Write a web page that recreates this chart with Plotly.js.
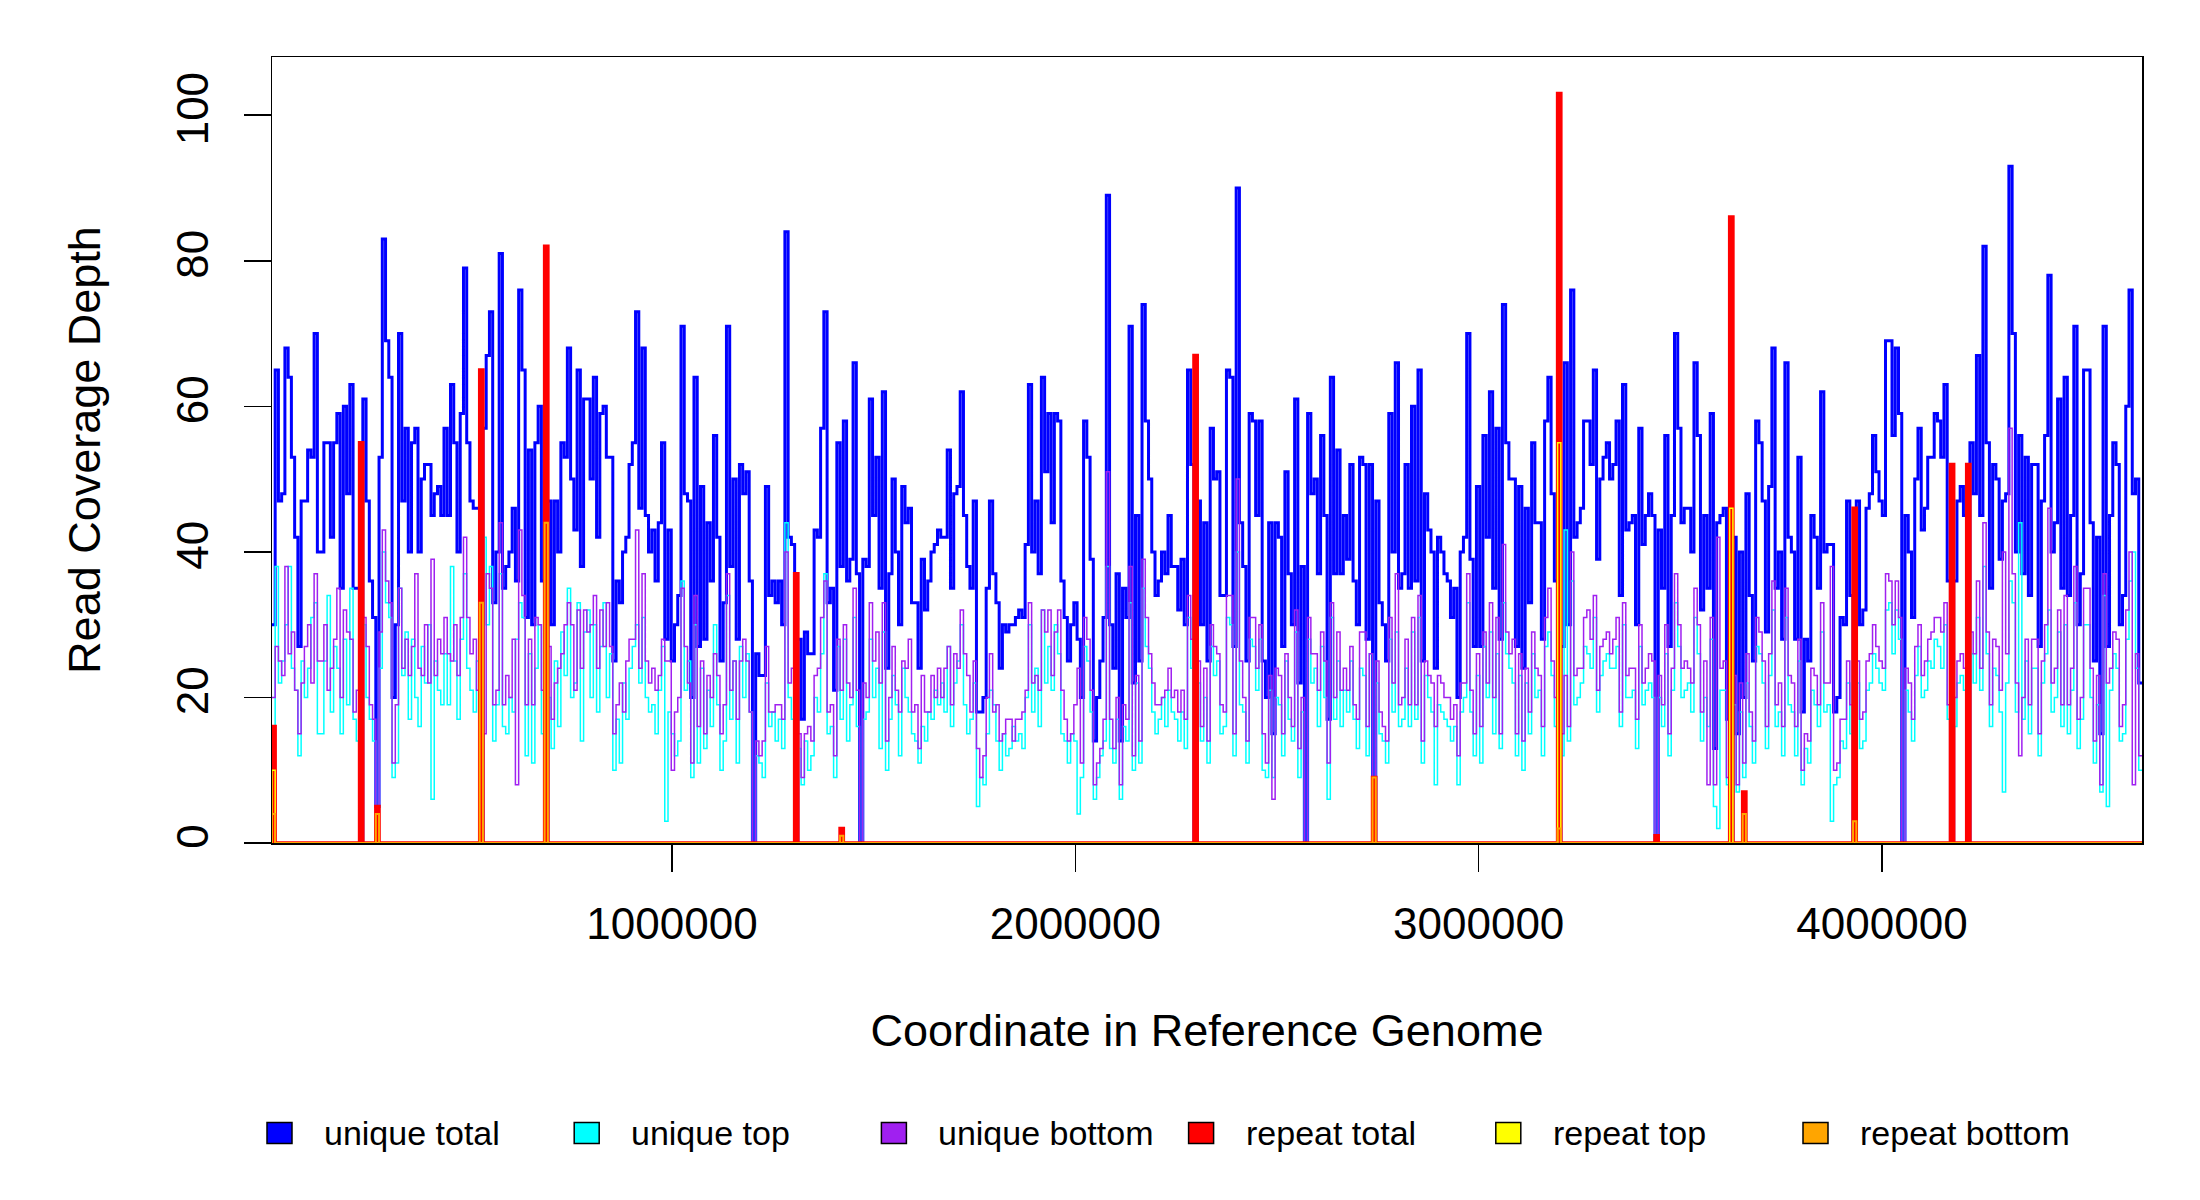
<!DOCTYPE html>
<html><head><meta charset="utf-8">
<script src="https://cdn.plot.ly/plotly-3.0.1.min.js"></script>
<style>html,body{margin:0;padding:0;background:#fff}#chart{width:2200px;height:1200px}</style>
</head><body><div id="chart"></div>
<script>
// ---- data ----
const uniqueTotal = [
30,30,65,47,48,68,64,53,42,27,47, 47,54,53,70,40,40,55,55,42,55,59, 35,60,48,63,35,35,0,61,47,36,
31,5,53,83,69,64,20,30,70,47, 57,40,55,57,40,50,52,52,45,48, 49,45,57,45,63,55,40,59,79,
55,47,46,46,0,57,67,73,33,40, 81,35,38,40,46,36,76,65,31,54, 30,55,60,36,0,47,30,47,40,55,
53,68,50,43,65,38,61,61,50,64, 42,59,60,53,53,25,36,33,40,42, 52,55,73,46,68,45,40,43,36,44,
55,28,43,25,30,34,71,48,47, 20,64,27,49,28,44,36,56,42,25, 33,71,38,50,28,52,48,51,36,0,
26,23,23,49,34,36,33,36,30,84, 42,41,0,28,17,29,26,26,43,42, 57,73,33,35,21,55,38,58,36,39,
66,37,0,39,38,61,45,53,35,62, 24,37,50,40,30,49,44,46,33,33, 24,39,32,36,40,41,43,42,42,54,
35,48,49,62,45,38,35,47,18,18, 20,35,47,37,33,24,30,29,30,30, 31,32,31,41,63,40,47,37,64,51,
59,44,59,58,36,31,25,30,33,28, 20,58,53,39,14,20,25,31,89,30, 24,37,14,35,31,71,22,45,25,74,
58,50,40,34,36,40,37,45,38,38, 32,39,30,65,52,0,47,30,44,25, 57,50,51,34,34,65,64,27,90,44,
38,25,59,58,45,58,25,20,44,15, 44,42,27,51,37,30,61,22,38,0, 59,48,50,37,56,45,17,64,37,54,
37,45,39,52,36,30,53,52,28,52, 0,47,33,30,25,59,40,66,35,37, 52,35,60,36,65,25,48,43,40,24,
42,40,37,36,31,35,20,40,42,70, 39,27,49,27,56,42,62,35,57,28, 74,55,50,50,27,49,24,46,33,55,
44,44,28,58,64,48,36,0,27,66, 30,76,42,44,46,58,58,52,65, 39,50,53,55,50,52,58,34,63,43,
44,45,30,57,41,45,48,45,0,43, 35,56,27,45,70,57,44,46,46, 40,66,56,32,45,35,59,13,44,45,
46,17,0,42,15,40,20,48,34,25, 58,55,47,29,49,68,35,40,28,66, 42,40,28,53,18,28,25,45,42,35,
62,40,41,41,18,20,31,30,47,34, 0,47,30,32,46,48,56,51,47,45, 69,69,56,68,59,0,45,40,31,50,
57,43,46,53,53,59,58,53,63,36, 0,36,47,49,45,0,55,48,67,45, 82,55,35,52,50,39,47,48,93,70,
40,56,37,53,34,52,52,27,47,56,78, 40,44,61,35,64,34,45,71,30,37, 65,65,44,25,42,15,71,27,45,55,52,
30,34,60,76,48,50,22];
const uniqueTop = [
9,9,38,22,25,30,38,24,21,12,25, 20,24,31,33,15,15,25,34,18,27,24, 15,28,19,35,17,14,0,30,20,17,
14,1,24,40,33,31,9,11,35,23, 29,17,28,20,16,27,22,30,6,25, 21,19,26,19,38,25,17,28,37,
24,21,18,25,0,42,30,38,14,19, 37,16,15,20,18,28,33,31,12,26, 11,24,30,15,0,20,13,25,16,29,
23,35,20,22,33,14,29,32,20,30, 18,27,33,20,26,10,17,11,22,17, 24,27,30,22,31,20,18,19,15,21,
27,3,18,15,12,14,36,21,25, 9,30,11,24,13,21,16,30,19,10, 14,34,17,25,11,27,20,26,18,0,
12,11,9,22,16,18,14,17,13,44, 20,17,0,13,8,14,10,12,20,18, 26,37,15,16,9,27,17,28,14,19,
31,16,0,17,18,28,20,24,13,29, 10,17,23,19,12,24,20,18,15,14, 11,16,14,18,17,21,19,22,18,27,
16,22,25,30,19,15,17,22,5,9, 8,15,21,19,14,10,15,12,13,16, 14,15,13,20,30,18,24,16,32,22,
27,21,30,26,15,14,11,15,14,4, 9,27,25,18,6,9,12,14,38,13, 11,17,6,16,14,33,10,22,11,35,
27,24,18,15,17,20,16,21,18,17, 14,18,13,31,24,0,22,14,20,11, 27,23,25,15,16,31,30,12,40,19,
18,11,28,27,21,28,10,9,21,9, 20,19,12,25,17,14,29,9,18,0, 28,22,24,16,27,20,6,31,17,25,
16,21,18,25,17,13,24,23,12,26, 0,22,15,14,11,28,18,29,16,17, 24,16,29,17,31,11,23,20,18,8,
19,18,17,16,14,16,8,18,20,33, 18,12,23,11,27,20,29,15,26,13, 33,26,24,22,12,23,10,22,15,26,
20,21,12,27,29,23,16,0,12,43, 14,36,19,20,22,27,26,24,31, 18,23,25,26,24,24,27,16,30,20,
20,21,13,27,19,21,22,20,0,20, 16,26,12,21,33,27,20,21,22, 18,31,26,14,20,16,28,5,2,21,
21,8,0,19,7,18,9,22,16,11, 27,26,22,13,23,32,16,18,12,31, 19,18,12,25,8,13,11,21,19,16,
29,18,19,3,8,9,14,13,22,15, 0,22,13,14,21,22,26,24,22,21, 32,33,26,32,28,0,21,18,14,23,
27,20,21,25,24,28,27,24,30,17, 0,16,22,23,21,0,26,22,31,21, 38,26,16,24,23,18,7,22,36,33,
18,44,17,25,15,24,24,12,22,26,32, 18,20,29,16,30,15,21,33,13,17, 30,30,20,11,19,7,34,5,21,26,24,
14,15,28,36,40,24,10];
const uniqueBottom = [
20,20,27,25,23,38,26,29,21,15,22, 27,30,22,37,25,25,30,21,24,28,35, 20,32,29,28,18,21,0,31,27,19,
17,4,29,43,36,33,11,19,35,24, 28,23,27,37,24,23,30,22,39,23, 28,26,31,26,25,30,23,31,42,
31,26,28,21,0,15,37,35,19,21, 44,19,23,20,28,8,43,34,19,28, 19,31,30,21,0,27,17,22,24,26,
30,33,30,21,32,24,32,29,30,34, 24,32,27,33,27,15,19,22,18,25, 28,28,43,24,37,25,22,24,21,23,
28,25,25,10,18,20,35,27,22, 11,34,16,25,15,23,20,26,23,15, 19,37,21,25,17,25,28,25,18,0,
14,12,14,27,18,18,19,19,17,40, 22,24,0,15,9,15,16,14,23,24, 31,36,18,19,12,28,21,30,22,20,
35,21,0,22,20,33,25,29,22,33, 14,20,27,21,18,25,24,28,18,19, 13,23,18,18,23,20,24,20,24,27,
19,26,24,32,26,23,18,25,13,9, 12,20,26,18,19,14,15,17,17,14, 17,17,18,21,33,22,23,21,32,29,
32,23,29,32,21,17,14,15,19,24, 11,31,28,21,8,11,13,17,51,17, 13,20,8,19,17,38,12,23,14,39,
31,26,22,19,19,20,21,24,20,21, 18,21,17,34,28,0,25,16,24,14, 30,27,26,19,18,34,34,15,50,25,
20,14,31,31,24,30,15,11,23,6, 24,23,15,26,20,16,32,13,20,0, 31,26,26,21,29,25,11,33,20,29,
21,24,21,27,19,17,29,29,16,26, 0,25,18,16,14,31,22,37,19,20, 28,19,31,19,34,14,25,23,22,16,
23,22,20,20,17,19,12,22,22,37, 21,15,26,16,29,22,33,20,31,15, 41,29,26,28,15,26,14,24,18,29,
24,23,16,31,35,25,20,0,15,23, 16,40,23,24,24,31,32,28,34, 21,27,28,29,26,28,31,18,33,23,
24,24,17,30,22,24,26,25,0,23, 19,30,15,24,37,30,24,25,24, 22,35,30,18,25,8,31,8,42,24,
25,9,0,23,8,22,11,26,18,14, 31,29,25,16,26,36,19,22,16,35, 23,22,16,28,10,15,14,24,23,19,
33,22,22,38,10,11,17,17,25,19, 0,25,17,18,25,26,30,27,25,24, 37,36,30,36,31,0,24,22,17,27,
30,23,25,28,29,31,31,29,33,19, 0,20,25,26,24,0,29,26,36,24, 44,29,19,28,27,21,40,26,57,37,
22,12,20,28,19,28,28,15,25,30,46, 22,24,32,19,34,19,24,38,17,20, 35,35,24,14,23,8,37,22,24,29,28,
16,19,32,40,8,26,12];
// repeat series are zero except in these bins
const repeatTotalAt  = [1,28,33,65,85,162,176,285,340,397,427,450,454,488,518,523];
const repeatTotalVal = [16,55,5,65,82,37,2,67,9,103,1,86,7,46,52,52];
const repeatTopAt    = [1,397,450];
const repeatTopVal   = [10,55,46];
const repeatBottomAt = [1,33,65,85,176,340,397,454,488];
const repeatBottomVal= [4,4,33,44,1,9,2,4,3];

const seriesNames  = ['unique total','unique top','unique bottom','repeat total','repeat top','repeat bottom'];
const seriesColors = ['#0000FF','#00FFFF','#A020F0','#FF0000','#FFFF00','#FFA500'];
const xTickVals = [1000000,2000000,3000000,4000000];
const xTickText = ['1000000','2000000','3000000','4000000'];
const yTickVals = [0,20,40,60,80,100];
const genomeStart = 0, genomeEnd = 4644631;
const xAxisStart = 8264;

// ---- build ----
const N = uniqueTotal.length;
const W = (genomeEnd - genomeStart) / N;
const xs = [];
for (let i = 0; i <= N; i++) xs.push(genomeStart + i * W);
function sparse(at, val){ const a = new Array(N).fill(0); at.forEach((k,i)=>{a[k]=val[i];}); return a; }
function stepY(arr){ return arr.concat([arr[arr.length-1]]); }

const series = [uniqueTotal, uniqueTop, uniqueBottom,
  sparse(repeatTotalAt, repeatTotalVal), sparse(repeatTopAt, repeatTopVal), sparse(repeatBottomAt, repeatBottomVal)];
const widths = [3, 1.5, 1.5, 3.5, 1.5, 2];

const traces = series.map((s, i) => ({
  type: 'scatter', mode: 'lines', name: seriesNames[i],
  x: xs, y: stepY(s),
  line: {shape: 'hv', color: seriesColors[i], width: widths[i]},
  showlegend: false, hoverinfo: 'skip'
}));

// plot frame in pixels
const L = 272, R = 58, T = 57, B = 357, PW = 2200 - L - R, PH = 1200 - T - B;
const px = v => (v - L) / PW;
const py = v => (1200 - B - v) / PH;

const shapes = [], annotations = [];
const legendLeft = 267, legendStep = 307.2, legendY = 1133, boxW = 25, boxH = 21;
seriesNames.forEach((n, i) => {
  const x0 = legendLeft + i * legendStep;
  shapes.push({type:'rect', xref:'paper', yref:'paper',
    x0: px(x0), x1: px(x0 + boxW), y0: py(legendY + boxH/2), y1: py(legendY - boxH/2),
    fillcolor: seriesColors[i], line:{color:'#000', width:1.5}});
  annotations.push({xref:'paper', yref:'paper', x: px(x0 + 55), y: py(legendY),
    xanchor:'left', yanchor:'middle', text: n, showarrow:false,
    font:{size:34, color:'#000'}});
});

const layout = {
  width: 2200, height: 1200,
  margin: {l: L, r: R, t: T, b: B},
  paper_bgcolor: '#fff', plot_bgcolor: '#fff',
  showlegend: false,
  font: {family: 'Liberation Sans, Arial, sans-serif', color: '#000'},
  xaxis: {
    range: [xAxisStart, genomeEnd], tickvals: xTickVals, ticktext: xTickText,
    ticks: 'outside', ticklen: 27, tickwidth: 1.5, tickcolor: '#000',
    showline: true, mirror: true, linecolor: '#000', linewidth: 1.5,
    showgrid: false, zeroline: false, tickfont: {size: 44}, ticklabelstandoff: 15,
    title: {text: 'Coordinate in Reference Genome', font: {size: 45}, standoff: 67},
    automargin: false
  },
  yaxis: {
    range: [0, 108], tickvals: yTickVals, tickangle: -90,
    ticks: 'outside', ticklen: 27, tickwidth: 1.5, tickcolor: '#000',
    showline: true, mirror: true, linecolor: '#000', linewidth: 1.5,
    showgrid: false, zeroline: false, tickfont: {size: 44}, ticklabelstandoff: 18,
    title: {text: 'Read Coverage Depth', font: {size: 45}, standoff: 53},
    automargin: false
  },
  shapes: shapes, annotations: annotations
};

Plotly.newPlot('chart', traces, layout, {staticPlot: true, displayModeBar: false});
</script>
</body></html>
